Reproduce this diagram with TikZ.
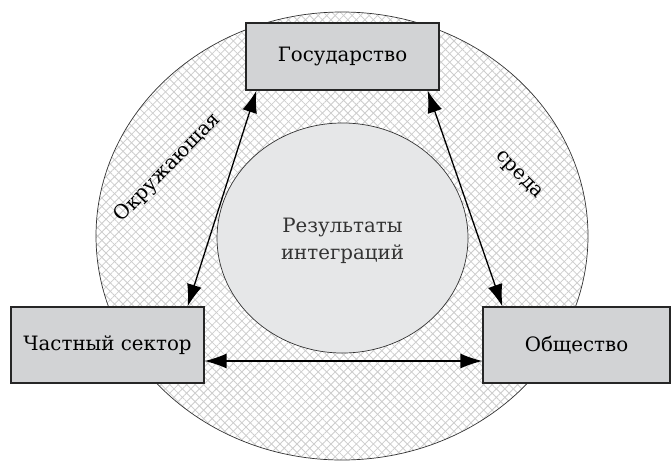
\documentclass[tikz,border=0pt]{standalone}
\usepackage{fontspec}
\setmainfont{DejaVu Serif}[Scale=0.86]
\usetikzlibrary{arrows.meta,patterns.meta}
\definecolor{boxgray}{RGB}{210,211,213}
\definecolor{coregray}{RGB}{230,231,232}
\definecolor{hatchgray}{RGB}{205,205,205}
\tikzset{
  sector/.style={draw=black!85, line width=1.2pt, fill=boxgray, inner sep=0pt,
    font=\fontsize{23}{27}\selectfont},
  link/.style={line width=1.3pt, {Latex[length=22pt,width=15pt]}-{Latex[length=22pt,width=15pt]}},
  hatch/.style={pattern={Lines[angle=#1,distance=6pt,line width=0.8pt]}, pattern color=hatchgray},
  ringlabel/.style={anchor=base, font=\fontsize{23}{27}\selectfont},
}
\begin{document}
\begin{tikzpicture}[x=1pt,y=-1pt]
\useasboundingbox (0,0) rectangle (671,461);
% outer ring
\fill[white] (342,236) ellipse [x radius=246pt, y radius=224pt];
\fill[hatch=45] (342,236) ellipse [x radius=246pt, y radius=224pt];
\fill[hatch=-45] (342,236) ellipse [x radius=246pt, y radius=224pt];
\draw[line width=0.7pt, black!80] (342,236) ellipse [x radius=246pt, y radius=224pt];
% core
\draw[line width=0.7pt, draw=black!80, fill=coregray] (342.5,238) ellipse [x radius=125.5pt, y radius=115pt];
\node[align=center, text=black!80, font=\fontsize{23}{27}\selectfont] (core) at (342.5,241) {Результаты\\интеграций};
% sectors
\node[sector, minimum width=193pt, minimum height=67pt] (gos) at (342.5,56.5) {Государство};
\node[sector, minimum width=193pt, minimum height=76pt] (chast) at (107.5,345) {Частный сектор};
\node[sector, minimum width=187pt, minimum height=76pt] (obsh) at (576.5,345) {Общество};
\draw[link] ([xshift=11pt]gos.south west) -- ([xshift=-17pt]chast.north east);
\draw[link] ([xshift=-12pt]gos.south east) -- ([xshift=20pt]obsh.north west);
\draw[link] ([yshift=-16pt]chast.east) -- ([yshift=-16pt]obsh.west);
\node[ringlabel, rotate=46] (okr) at (171.5,171.5) {Окружающая};
\node[ringlabel, rotate=-45] (sreda) at (516,178) {среда};
\end{tikzpicture}
\end{document}
